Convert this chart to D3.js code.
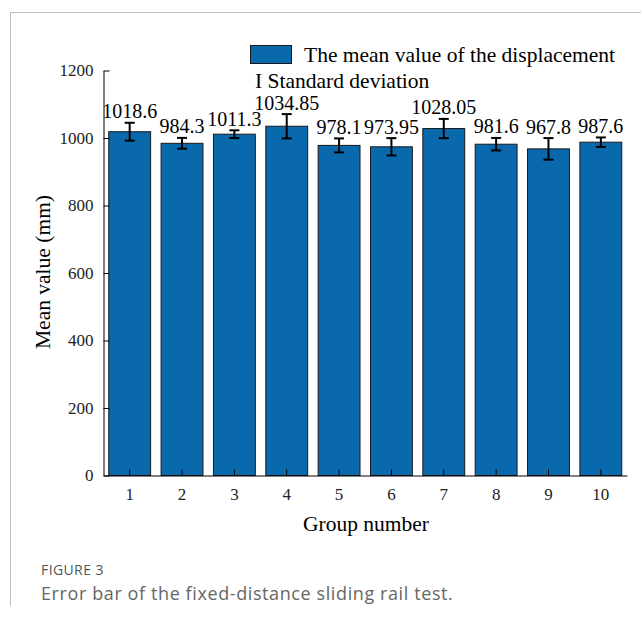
<!DOCTYPE html>
<html>
<head>
<meta charset="utf-8">
<script src="https://cdn.jsdelivr.net/npm/d3@7"></script>
<style>
  html, body { margin: 0; padding: 0; background: #fff; }
  svg { display: block; }
</style>
</head>
<body>
<svg id="chart" width="641" height="623"></svg>
<script>
// Group numbers, mean displacement (mm) and standard deviation per group
const groups = ["1", "2", "3", "4", "5", "6", "7", "8", "9", "10"];
const means = [1018.6, 984.3, 1011.3, 1034.85, 978.1, 973.95, 1028.05, 981.6, 967.8, 987.6];
const stdDevs = [26.5, 16, 11.5, 36, 20.7, 25.7, 28.5, 18.5, 32, 14];
const meanLabels = ["1018.6", "984.3", "1011.3", "1034.85", "978.1", "973.95", "1028.05", "981.6", "967.8", "987.6"];
const yTicks = [0, 200, 400, 600, 800, 1000, 1200];

const svg = d3.select("#chart");
const serif = "'Liberation Serif', 'Times New Roman', serif";
const sans = "'Open Sans', 'Noto Sans', sans-serif";
const barFill = "#0a69ad";

// Panel frame (top and left rules)
svg.append("line").attr("x1", 10).attr("y1", 12.5).attr("x2", 641).attr("y2", 12.5)
  .attr("stroke", "#bdbdbd").attr("stroke-width", 1);
svg.append("line").attr("x1", 10.5).attr("y1", 12).attr("x2", 10.5).attr("y2", 606)
  .attr("stroke", "#bdbdbd").attr("stroke-width", 1);

const plot = { left: 103.5, right: 627, top: 70.5, bottom: 475.5 };

const x = d3.scaleBand().domain(groups)
  .range([plot.left, plot.right]).paddingInner(0.2).paddingOuter(0.1);
const y = d3.scaleLinear().domain([0, 1200]).range([plot.bottom, plot.top]);

const data = groups.map((g, i) => ({ g, m: means[i], s: stdDevs[i], label: meanLabels[i] }));

// Bars
svg.append("g").selectAll("rect").data(data).join("rect")
  .attr("x", d => x(d.g))
  .attr("y", d => y(d.m))
  .attr("width", x.bandwidth())
  .attr("height", d => y(0) - y(d.m))
  .attr("fill", barFill)
  .attr("stroke", "#1a1a1a")
  .attr("stroke-width", 1);

// Error bars
const eb = svg.append("g").attr("stroke", "#000").attr("stroke-width", 2);
const capHalf = 5;
data.forEach(d => {
  const cx = x(d.g) + x.bandwidth() / 2;
  const yt = y(d.m + d.s), yb = y(d.m - d.s);
  eb.append("line").attr("x1", cx).attr("x2", cx).attr("y1", yt).attr("y2", yb);
  eb.append("line").attr("x1", cx - capHalf).attr("x2", cx + capHalf).attr("y1", yt).attr("y2", yt);
  eb.append("line").attr("x1", cx - capHalf).attr("x2", cx + capHalf).attr("y1", yb).attr("y2", yb);
});

// Value labels above each error bar
svg.append("g").selectAll("text").data(data).join("text")
  .attr("x", d => x(d.g) + x.bandwidth() / 2)
  .attr("y", d => y(d.m + d.s) - 4.5)
  .attr("text-anchor", "middle")
  .style("font-family", serif)
  .style("font-size", "20px")
  .attr("fill", "#000")
  .text(d => d.label);

// Y axis with inward ticks
const yAxis = svg.append("g").attr("transform", `translate(${plot.left},0)`)
  .call(d3.axisLeft(y).tickValues(yTicks).tickFormat(d3.format("d"))
    .tickSize(-6).tickSizeOuter(0).tickPadding(10));
yAxis.attr("font-family", null);
yAxis.select(".domain").attr("stroke", "#000");
yAxis.selectAll(".tick line").attr("stroke", "#000");
yAxis.selectAll(".tick text")
  .style("font-family", serif).style("font-size", "17px").attr("fill", "#222");

// X axis with inward ticks
const xAxis = svg.append("g").attr("transform", `translate(0,${plot.bottom})`)
  .call(d3.axisBottom(x).tickSize(-6).tickSizeOuter(0).tickPadding(12));
xAxis.attr("font-family", null);
xAxis.select(".domain").attr("stroke", "#000");
xAxis.selectAll(".tick line").attr("stroke", "#000");
xAxis.selectAll(".tick text")
  .style("font-family", serif).style("font-size", "17px").attr("fill", "#222");

// Axis titles
svg.append("text")
  .attr("transform", "translate(50,272) rotate(-90)")
  .attr("text-anchor", "middle")
  .style("font-family", serif).style("font-size", "21.5px").attr("fill", "#000")
  .text("Mean value (mm)");
svg.append("text")
  .attr("x", 366).attr("y", 531)
  .attr("text-anchor", "middle")
  .style("font-family", serif).style("font-size", "21.5px").attr("fill", "#000")
  .text("Group number");

// Legend
svg.append("rect").attr("x", 250.5).attr("y", 45.5).attr("width", 41).attr("height", 18)
  .attr("fill", barFill).attr("stroke", "#1a1a1a").attr("stroke-width", 1);
svg.append("text").attr("x", 304).attr("y", 62)
  .style("font-family", serif).style("font-size", "21.5px").attr("fill", "#000")
  .text("The mean value of the displacement");
svg.append("text").attr("x", 255).attr("y", 88)
  .style("font-family", serif).style("font-size", "21.5px").attr("fill", "#000")
  .text("I Standard deviation");

// Caption
svg.append("text").attr("x", 41).attr("y", 575)
  .style("font-family", sans).style("font-size", "14px").style("letter-spacing", "0.4px")
  .attr("fill", "#555")
  .text("FIGURE 3");
svg.append("text").attr("x", 41).attr("y", 600)
  .style("font-family", sans).style("font-size", "18px").style("letter-spacing", "0.6px")
  .attr("fill", "#666")
  .text("Error bar of the fixed-distance sliding rail test.");
</script>
</body>
</html>
